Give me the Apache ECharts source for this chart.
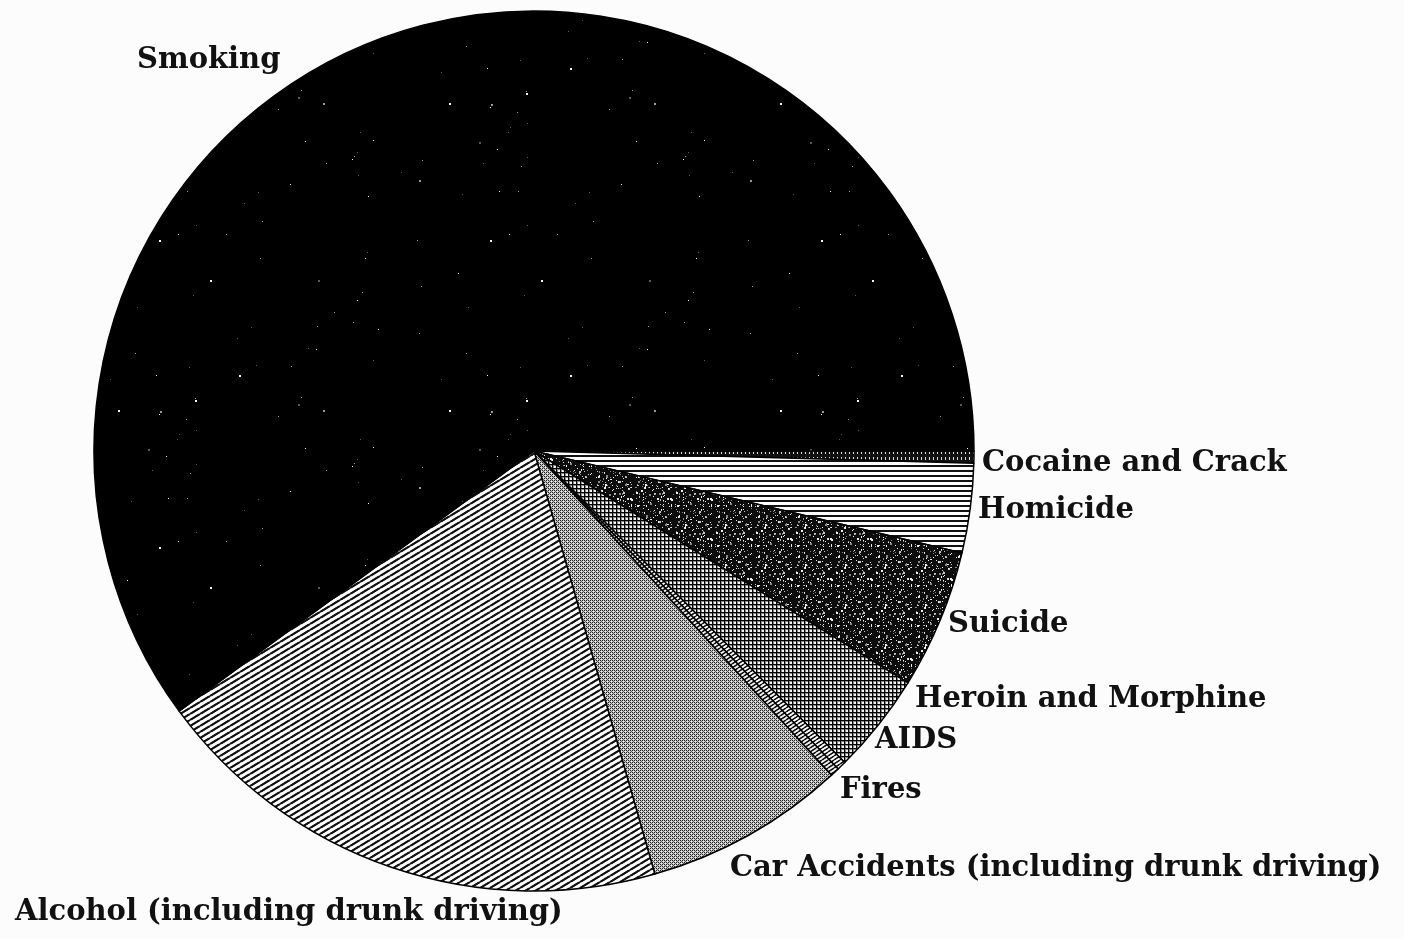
<!DOCTYPE html>
<html>
<head>
<meta charset="utf-8">
<script src="https://cdn.jsdelivr.net/npm/echarts@6/dist/echarts.min.js"></script>
<style>
  html,body{ margin:0; padding:0; background:#fcfcfc; }
  #chart{ width:1404px; height:939px; }
</style>
</head>
<body>
<div id="chart"></div>
<script>
// ---------- data (share of deaths, %) ----------
var names  = ["Cocaine and Crack", "Homicide", "Suicide", "Heroin and Morphine", "AIDS", "Fires",
              "Car Accidents (including drunk driving)", "Alcohol (including drunk driving)", "Smoking"];
var values = [0.44, 3.28, 5.11, 3.69, 0.33, 0.33, 7.39, 19.36, 60.06];

// label anchor: left edge x, middle y
var labelPos = [[982,463],[978,510],[948,624],[915,699],[875,740],[840,790],[730,868],[15,912],[137,60]];

(function(){
  "use strict";

  // deterministic texture noise (only used for the print speckle)
  function hash(i){ var s = Math.sin(i*12.9898 + 78.233)*43758.5453; return s - Math.floor(s); }
  function tile(w, h, draw){
    var c = document.createElement("canvas"); c.width = w; c.height = h;
    var g = c.getContext("2d"); draw(g, w, h);
    return { image: c, repeat: "repeat" };
  }
  function speckle(bg, dots, n, w, h, seed, sz){
    return tile(w, h, function(g){
      g.fillStyle = bg; g.fillRect(0,0,w,h);
      for(var i=0;i<n;i++){
        var x = Math.floor(hash(seed+i*4)*w), y = Math.floor(hash(seed+i*4+1)*h);
        var r = hash(seed+i*4+2), s = r < 0.2 ? sz+1 : sz;
        g.fillStyle = dots[Math.floor(hash(seed+i*4+3)*dots.length)];
        g.fillRect(x, y, s, s);
      }
    });
  }
  function diag(w, h, lw, fg, bg){
    return tile(w, h, function(g){
      g.fillStyle = bg; g.fillRect(0,0,w,h);
      g.strokeStyle = fg; g.lineWidth = lw;
      for(var k=-1;k<=1;k++){
        g.beginPath(); g.moveTo(0+k*w, h); g.lineTo(w+k*w, 0); g.stroke();
        g.beginPath(); g.moveTo(0, h+k*h); g.lineTo(w, 0+k*h); g.stroke();
      }
    });
  }
  function hlines(p, lw){
    return tile(4, p, function(g){ g.fillStyle="#fff"; g.fillRect(0,0,4,p); g.fillStyle="#111"; g.fillRect(0,0,4,lw); });
  }
  function grid(p){
    return tile(p, p, function(g){
      g.fillStyle="#f4f4f4"; g.fillRect(0,0,p,p);
      g.fillStyle="#888"; g.fillRect(0,1,p,1); g.fillRect(1,0,1,p);
      g.fillStyle="#000"; g.fillRect(0,0,p,1); g.fillRect(0,0,1,p);
    });
  }
  function halftone(){
    return tile(4, 4, function(g){
      g.fillStyle="#c4c4c4"; g.fillRect(0,0,4,4);
      g.fillStyle="#222"; g.fillRect(0,0,1,1); g.fillRect(2,2,1,1); g.fillRect(2,0,1,1); g.fillRect(0,2,1,1);
      g.fillStyle="#666"; g.fillRect(1,1,1,1); g.fillRect(3,3,1,1);
      g.fillStyle="#f2f2f2"; g.fillRect(1,3,1,1); g.fillRect(3,1,1,1);
    });
  }
  function ticks(){
    return tile(4, 6, function(g){ g.fillStyle="#111"; g.fillRect(0,0,4,6); g.fillStyle="#ddd"; g.fillRect(1,1,1,3); });
  }

  var fills = [
    ticks(),                                                              // cocaine
    hlines(5, 2),                                                         // homicide
    speckle("#0c0c0c", ["#c8c8c8","#888","#eee"], 170, 40, 40, 7, 1),    // suicide
    grid(4),                                                              // heroin
    diag(6, 4, 1.2, "#111", "#fff"),                                      // AIDS
    diag(6, 4, 1.2, "#111", "#eee"),                                      // fires
    halftone(),                                                           // car accidents
    diag(10, 6, 1.9, "#111", "#fff"),                                     // alcohol
    speckle("#000", ["#f4f4f4","#9a9a9a","#5a5a5a"], 70, 331, 307, 31, 1) // smoking
  ];

  var data = names.map(function(n, i){
    return { name: n, value: values[i], itemStyle: { color: fills[i] } };
  });

  var chart = echarts.init(document.getElementById("chart"), null, { renderer: "canvas" });
  chart.setOption({
    animation: false,
    backgroundColor: "#fcfcfc",
    series: [{
      type: "pie",
      center: [534, 451],
      radius: 440,
      startAngle: 0,
      clockwise: true,
      avoidLabelOverlap: false,
      silent: true,
      data: data,
      itemStyle: { borderColor: "#000", borderWidth: 1.5 },
      label: {
        show: true, position: "outside", formatter: "{b}",
        fontFamily: "DejaVu Serif", fontWeight: "bold", fontSize: 29, color: "#111"
      },
      labelLine: { show: false },
      labelLayout: function(p){
        var q = labelPos[p.dataIndex];
        return { x: q[0], y: q[1], align: "left", verticalAlign: "middle" };
      }
    }]
  });
})();
</script>
</body>
</html>
